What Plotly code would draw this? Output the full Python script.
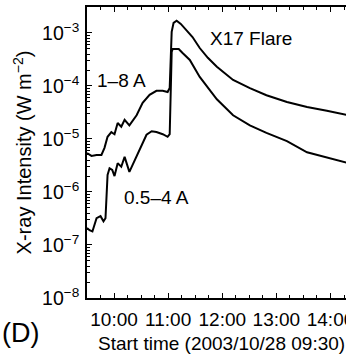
import plotly.graph_objects as go
import pandas as pd

START = "2003-10-28 09:30"

# 1-8 A channel: minutes after start, flux (W m^-2)
long_min = [0, 5, 10.6, 16, 19.4, 22.8, 27, 30.5, 34, 38, 41.7, 47, 55, 61.7, 69.4, 77, 84,
            89.4, 91.7, 92.8, 93.9, 96, 99.4, 104, 110.5, 117, 125, 134, 144, 162, 180.6,
            199, 221.7, 244, 266, 290]
long_flux = [5.4e-6, 4.8e-6, 5.0e-6, 5.0e-6, 6.8e-6, 1.1e-5, 1.35e-5, 1.23e-5, 2.0e-5, 1.7e-5,
             2.3e-5, 1.8e-5, 2.8e-5, 4.8e-5, 6.8e-5, 8.1e-5, 8.1e-5, 7.7e-5, 9.2e-5, 4.8e-4,
             1.05e-3, 1.55e-3, 1.7e-3, 1.48e-3, 1.14e-3, 8.4e-4, 5.2e-4, 3.4e-4, 2.3e-4, 1.3e-4,
             9.1e-5, 6.7e-5, 5.0e-5, 4.0e-5, 3.4e-5, 2.8e-5]

# 0.5-4 A channel
short_min = [0, 2.8, 6, 10.6, 15, 18.3, 20.5, 21.7, 22.8, 25, 28, 30.5, 34, 38, 41.7, 47, 52.8,
             58.3, 66, 71.7, 77, 84, 89.4, 91.7, 92.8, 93.9, 95, 101.7, 106, 110.5, 114, 125,
             134, 144, 162, 180.6, 199, 221.7, 244, 266, 290]
short_flux = [2.1e-7, 1.9e-7, 1.8e-7, 3.2e-7, 3.5e-7, 2.8e-7, 3.2e-7, 7.1e-7, 2.1e-6, 2.8e-6,
              2.6e-6, 2.0e-6, 3.5e-6, 3.0e-6, 4.6e-6, 2.4e-6, 4.0e-6, 6.2e-6, 1.2e-5, 1.4e-5,
              1.35e-5, 1.23e-5, 1.1e-5, 1.23e-5, 1.3e-4, 4.4e-4, 5.0e-4, 5.0e-4, 4.2e-4, 3.6e-4,
              3.1e-4, 1.48e-4, 9.1e-5, 5.6e-5, 2.8e-5, 1.8e-5, 1.3e-5, 9.1e-6, 5.6e-6, 4.4e-6,
              3.5e-6]

y_tickvals = [1e-8, 1e-7, 1e-6, 1e-5, 1e-4, 1e-3]
y_ticktext = ["10<sup>−8</sup>", "10<sup>−7</sup>", "10<sup>−6</sup>",
              "10<sup>−5</sup>", "10<sup>−4</sup>", "10<sup>−3</sup>"]

t0 = pd.Timestamp(START)
long_t = t0 + pd.to_timedelta(long_min, unit="min")
short_t = t0 + pd.to_timedelta(short_min, unit="min")

FONT = "Liberation Sans, Arial, sans-serif"
Y_RANGE = [-8, -2.51]

fig = go.Figure()
fig.add_trace(go.Scatter(x=long_t, y=long_flux, mode="lines",
                         line=dict(color="black", width=2), showlegend=False))
fig.add_trace(go.Scatter(x=short_t, y=short_flux, mode="lines",
                         line=dict(color="black", width=2), showlegend=False))
# invisible trace so the overlaid minor-tick axis is drawn
fig.add_trace(go.Scatter(x=[long_t[0]], y=[long_flux[0]], yaxis="y2", mode="markers",
                         marker=dict(opacity=0), showlegend=False, hoverinfo="skip"))

minor_y = [k * v for v in y_tickvals[:-1] for k in range(2, 10)]

fig.update_layout(
    width=346, height=357,
    margin=dict(l=87, r=0, t=7, b=59, autoexpand=False),
    paper_bgcolor="white", plot_bgcolor="white",
    font=dict(family=FONT, size=19, color="black"),
    xaxis=dict(
        type="date",
        range=[t0, t0 + pd.Timedelta(minutes=287.2)],
        tick0="2003-10-28 10:00", dtick=3600000, tickformat="%H:%M",
        tickfont=dict(size=19),
        ticks="inside", ticklen=5, tickwidth=1.3, tickcolor="black",
        minor=dict(dtick=900000, ticks="inside", ticklen=3, tickwidth=1.2, tickcolor="black"),
        showline=True, linecolor="black", linewidth=1.6, mirror="ticks",
        showgrid=False, zeroline=False, ticklabeloverflow="allow",
        ticklabelstandoff=3,
        automargin=False,
    ),
    yaxis=dict(
        type="log", range=Y_RANGE,
        tickmode="array", tickvals=y_tickvals, ticktext=y_ticktext,
        tickfont=dict(size=19.5),
        ticks="inside", ticklen=5, tickwidth=1.3, tickcolor="black",
        showline=True, linecolor="black", linewidth=1.6, mirror=False,
        showgrid=False, zeroline=False, ticklabelstandoff=2,
        title=dict(text="X-ray Intensity (W m<sup>−2</sup>)", standoff=5,
                   font=dict(family=FONT, size=20)),
        automargin=False,
    ),
    yaxis2=dict(
        type="log", range=Y_RANGE, overlaying="y", side="left", anchor="x",
        tickmode="array", tickvals=minor_y, showticklabels=False,
        ticks="inside", ticklen=3, tickwidth=1.0, tickcolor="black",
        showline=False, showgrid=False, zeroline=False, automargin=False,
    ),
    annotations=[
        dict(text="Start time (2003/10/28 09:30)", xref="paper", yref="paper",
             x=0.521, y=-0.155, showarrow=False, xanchor="center", yanchor="middle",
             font=dict(size=19)),
        dict(text="X17 Flare", xref="paper", yref="paper", x=0.632, y=0.893,
             showarrow=False, xanchor="center", yanchor="middle", font=dict(size=19)),
        dict(text="1–8 A", xref="paper", yref="paper", x=0.029, y=0.749,
             showarrow=False, xanchor="left", yanchor="middle", font=dict(size=19)),
        dict(text="0.5–4 A", xref="paper", yref="paper", x=0.137, y=0.344,
             showarrow=False, xanchor="left", yanchor="middle", font=dict(size=19)),
        dict(text="(D)", xref="paper", yref="paper", x=-0.255, y=-0.12,
             showarrow=False, xanchor="center", yanchor="middle", font=dict(size=27)),
    ],
)

fig.write_html("out.html")
